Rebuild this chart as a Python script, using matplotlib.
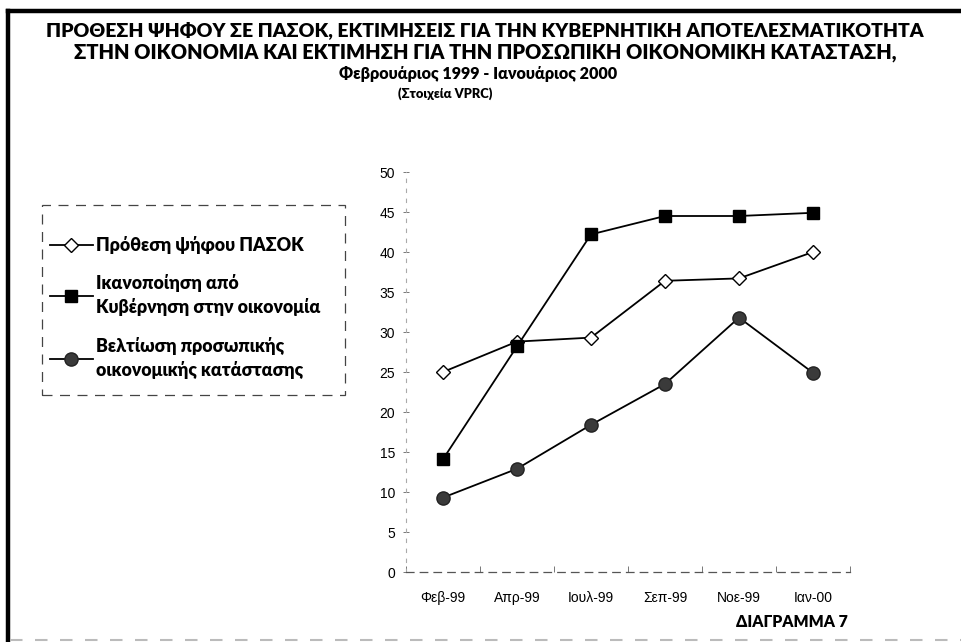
import numpy as np
import matplotlib.pyplot as plt
from matplotlib.lines import Line2D
from matplotlib.patches import Rectangle

# δεδομένα (εκτίμηση από το διάγραμμα)
months = ['Φεβ-99', 'Απρ-99', 'Ιουλ-99', 'Σεπ-99', 'Νοε-99', 'Ιαν-00']
pasok_vote = [25.0, 28.8, 29.3, 36.4, 36.7, 40.0]
gov_economy = [14.1, 28.2, 42.2, 44.5, 44.5, 44.9]
personal_econ = [9.3, 12.9, 18.4, 23.5, 31.8, 24.9]

label_vote = 'Πρόθεση ψήφου ΠΑΣΟΚ'
label_gov = 'Ικανοποίηση από\nΚυβέρνηση στην οικονομία'
label_pers = 'Βελτίωση προσωπικής\nοικονομικής κατάστασης'

W, H = 961, 642
bold_font = ['Lato', 'DejaVu Sans']
tick_font = ['Liberation Sans', 'DejaVu Sans']
heavy = 'heavy'

fig = plt.figure(figsize=(W / 100, H / 100), dpi=100)
fig.patch.set_facecolor('white')

# περίγραμμα
fig.add_artist(Line2D([8 / W, 1.0], [1 - 11 / H, 1 - 11 / H], color='black', lw=3.2))
fig.add_artist(Line2D([8 / W, 8 / W], [0, 1 - 11 / H], color='black', lw=3.2))
fig.add_artist(Line2D([10 / W, 1.0], [2 / H, 2 / H], color='#bbbbbb', lw=1.5, ls=(0, (6, 6))))

# τίτλος
fig.text(485 / W, 1 - 30 / H,
         'ΠΡΟΘΕΣΗ ΨΗΦΟΥ ΣΕ ΠΑΣΟΚ, ΕΚΤΙΜΗΣΕΙΣ ΓΙΑ ΤΗΝ ΚΥΒΕΡΝΗΤΙΚΗ ΑΠΟΤΕΛΕΣΜΑΤΙΚΟΤΗΤΑ',
         ha='center', va='center', fontsize=14.0, fontweight=heavy, family=bold_font)
fig.text(485 / W, 1 - 52 / H,
         'ΣΤΗΝ ΟΙΚΟΝΟΜΙΑ ΚΑΙ ΕΚΤΙΜΗΣΗ ΓΙΑ ΤΗΝ ΠΡΟΣΩΠΙΚΗ ΟΙΚΟΝΟΜΙΚΗ ΚΑΤΑΣΤΑΣΗ,',
         ha='center', va='center', fontsize=14.4, fontweight=heavy, family=bold_font)
fig.text(478 / W, 1 - 74 / H, 'Φεβρουάριος 1999 - Ιανουάριος 2000',
         ha='center', va='center', fontsize=11.6, fontweight=heavy, family=bold_font)
fig.text(445 / W, 1 - 94 / H, '(Στοιχεία VPRC)',
         ha='center', va='center', fontsize=9.3, fontweight=heavy, family=bold_font)
fig.text(848 / W, 1 - 622 / H, 'ΔΙΑΓΡΑΜΜΑ 7',
         ha='right', va='center', fontsize=11.3, fontweight=heavy, family=bold_font)

ax = fig.add_axes([406 / W, 70 / H, 444 / W, 400 / H])
x = np.arange(len(months))

ax.plot(x, pasok_vote, color='black', lw=1.3, marker='D', markersize=7.5,
        markerfacecolor='white', markeredgecolor='black', markeredgewidth=1.0,
        label=label_vote, zorder=3)
ax.plot(x, gov_economy, color='black', lw=1.3, marker='s', markersize=9,
        markerfacecolor='black', markeredgecolor='black', label=label_gov, zorder=3)
ax.plot(x, personal_econ, color='black', lw=1.3, marker='o', markersize=9.5,
        markerfacecolor='#3a3a3a', markeredgecolor='#222222', label=label_pers, zorder=3)

ax.set_xlim(-0.5, len(months) - 0.5)
ax.set_ylim(0, 50)
ax.set_yticks(np.arange(0, 51, 5))
ax.set_xticks(x)
ax.set_xticklabels(months)
ax.set_xticks(np.arange(-0.5, len(months), 1), minor=True)

for s in ['top', 'right']:
    ax.spines[s].set_visible(False)
ax.spines['left'].set_linestyle((0, (3, 6)))
ax.spines['left'].set_color('#aaaaaa')
ax.spines['left'].set_linewidth(0.8)
ax.spines['bottom'].set_linestyle((0, (6, 5)))
ax.spines['bottom'].set_color('#555555')
ax.spines['bottom'].set_linewidth(0.9)

ax.tick_params(axis='y', length=4, width=0.7, color='#777777', direction='inout',
               pad=6, labelsize=10)
ax.tick_params(axis='x', which='major', length=0, pad=14, labelsize=10)
ax.tick_params(axis='x', which='minor', length=4, width=0.7, color='#777777', direction='in')
for lab in ax.get_xticklabels() + ax.get_yticklabels():
    lab.set_family(tick_font)

# υπόμνημα με διακεκομμένο πλαίσιο
fig.add_artist(Rectangle((42 / W, 1 - 395 / H), 303 / W, 190 / H, transform=fig.transFigure,
                         fill=False, edgecolor='#444444', lw=0.9, ls=(0, (8, 6))))
leg = fig.legend(loc='upper left', bbox_to_anchor=(50 / W, 1 - 236 / H),
                 frameon=False, handlelength=2.4, handletextpad=0.2,
                 labelspacing=1.15, borderpad=0, borderaxespad=0,
                 prop={'family': bold_font, 'weight': heavy, 'size': 12.8})
for t in leg.get_texts():
    t.set_linespacing(1.4)

fig.savefig('out.png', dpi=100)
